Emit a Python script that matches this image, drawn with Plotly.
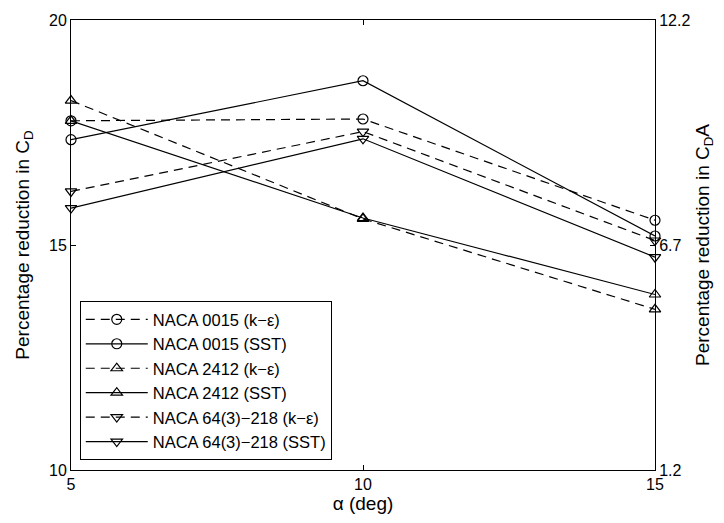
import plotly.graph_objects as go

alpha = [5, 10, 15]
naca0015_ke = [17.76, 17.80, 15.55]
naca0015_sst = [17.34, 18.65, 15.20]
naca2412_ke = [18.21, 15.58, 13.57]
naca2412_sst = [17.76, 15.60, 13.90]
naca64_ke = [16.19, 17.52, 15.10]
naca64_sst = [15.82, 17.36, 14.73]

series = [
    ("NACA 0015 (k−ε)", naca0015_ke, "dash", "circle-open"),
    ("NACA 0015 (SST)", naca0015_sst, "solid", "circle-open"),
    ("NACA 2412 (k−ε)", naca2412_ke, "dash", "triangle-up-open"),
    ("NACA 2412 (SST)", naca2412_sst, "solid", "triangle-up-open"),
    ("NACA 64(3)−218 (k−ε)", naca64_ke, "dash", "triangle-down-open"),
    ("NACA 64(3)−218 (SST)", naca64_sst, "solid", "triangle-down-open"),
]

left_ticks = [10, 15, 20]
right_ticks = [1.2, 6.7, 12.2]
x_ticks = [5, 10, 15]

fig = go.Figure()
for i, (name, vals, dash, sym) in enumerate(series):
    fig.add_trace(go.Scatter(
        x=alpha, y=vals, name=name, mode="lines+markers",
        legendgroup=f"g{i}", cliponaxis=False,
        line=dict(color="black", width=1.2, dash="9px,6px" if dash == "dash" else "solid"),
        marker=dict(symbol=sym, size=10, color="black", line=dict(color="black", width=1.2)),
    ))

# empty trace so the right-hand axis is drawn
fig.add_trace(go.Scatter(x=[], y=[], yaxis="y2", showlegend=False, hoverinfo="skip"))

font = dict(family="Liberation Sans, Arial, Helvetica, sans-serif", size=16, color="black")

fig.update_layout(
    width=724, height=523,
    margin=dict(l=71, r=69, t=13, b=51),
    paper_bgcolor="white", plot_bgcolor="white",
    font=font,
    showlegend=True,
    legend=dict(
        x=0.015, y=0.022, xanchor="left", yanchor="bottom",
        bordercolor="black", borderwidth=1, bgcolor="white",
        font=dict(size=16.5), tracegroupgap=0, traceorder="grouped",
        itemwidth=62,
    ),
    xaxis=dict(
        range=[5, 15], tickvals=x_ticks, ticks="inside", ticklen=5,
        tickcolor="black", showline=True, linecolor="black", linewidth=1,
        mirror="ticks", showgrid=False, zeroline=False,
        title=dict(text="α (deg)", standoff=4),
    ),
    yaxis=dict(
        range=[10, 20], tickvals=left_ticks, ticks="inside", ticklen=5,
        tickcolor="black", showline=True, linecolor="black", linewidth=1,
        mirror=True, showgrid=False, zeroline=False,
        title=dict(text="Percentage reduction in C<sub>D</sub>", standoff=14),
    ),
    yaxis2=dict(
        range=[1.2, 12.2], tickvals=right_ticks, ticktext=["1.2", "6.7", "12.2"],
        ticks="inside", ticklen=5, tickcolor="black",
        overlaying="y", side="right", anchor="x",
        showline=True, linecolor="black", linewidth=1,
        showgrid=False, zeroline=False,
        title=dict(text="Percentage reduction in C<sub>D</sub>A", standoff=6),
    ),
)

fig.write_html("out.html")
